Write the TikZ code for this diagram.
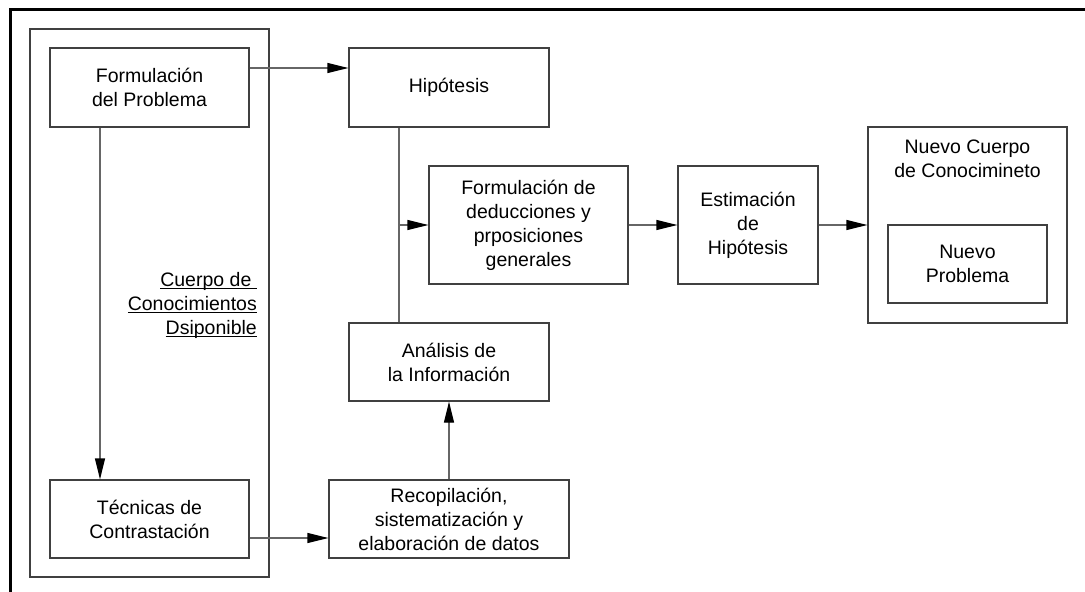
\documentclass[tikz,border=0pt]{standalone}
\usepackage{fontspec}
\setmainfont{Liberation Sans}
\usetikzlibrary{arrows.meta}
\newcommand\myul[1]{\leavevmode\setbox0\hbox{#1}\rlap{\rule[-3.2pt]{\wd0}{1.4pt}}\box0}
\begin{document}
\begin{tikzpicture}[x=1pt,y=-1pt,
  box/.style={draw=black!75, line width=1.2pt, inner sep=0pt, align=center,
    font=\fontsize{19.5}{24}\selectfont},
  conn/.style={draw=black!60, line width=1.2pt},
  arr/.style={conn, -{Triangle[length=21pt,width=10pt,color=black,fill=black]}},
  txt/.style={inner sep=0pt, align=center, font=\fontsize{19.5}{24}\selectfont}]
\useasboundingbox (0,0) rectangle (1085,592);
\fill[white] (0,0) rectangle (1085,592);
% outer frame (top and left edges)
\draw[line width=3pt, black] (10,592) -- (10,9) -- (1085,9);
% left container
\node[box, minimum width=239pt, minimum height=548pt] (cuerpo) at (149.5,303) {};
\node[box, minimum width=199pt, minimum height=79pt] (fp) at (149.5,87.5) {Formulación\\del Problema};
\node[box, minimum width=199pt, minimum height=78pt] (tc) at (149.5,519) {Técnicas de\\Contrastación};
\node[txt, align=right, anchor=east] (lbl) at (257,305) {\myul{Cuerpo de\ }\\\myul{Conocimientos}\\\myul{Dsiponible}};
% middle
\node[box, minimum width=200pt, minimum height=79pt] (hip) at (449,87.5) {Hipótesis};
\node[box, minimum width=200pt, minimum height=78pt] (an) at (449,362) {Análisis de\\la Información};
\node[box, minimum width=240pt, minimum height=78pt] (rec) at (449,519) {Recopilación,\\sistematización y\\elaboración de datos};
\node[box, minimum width=199pt, minimum height=118pt] (fd) at (528.5,225) {Formulación de\\deducciones y\\prposiciones\\generales};
\node[box, minimum width=140pt, minimum height=118pt] (est) at (748,225) {Estimación\\de\\Hipótesis};
% right
\node[box, minimum width=199pt, minimum height=196pt] (nc) at (967.5,225) {};
\node[txt] (nct) at (967.5,158.5) {Nuevo Cuerpo\\de Conocimineto};
\node[box, minimum width=159pt, minimum height=78pt] (np) at (967.5,264) {Nuevo\\Problema};
% connectors
\draw[arr] ([yshift=19.5pt]fp.east) -- ([yshift=19.5pt]hip.west);
\draw[arr] ([xshift=-49.5pt]fp.south) -- ([xshift=-49.5pt]tc.north);
\coordinate (hs) at ([xshift=-50pt]hip.south);
\coordinate (an0) at ([xshift=-50pt]an.north);
\draw[conn] (hs) -- (an0);
\draw[arr] (fd.west -| hs) -- (fd.west);
\draw[arr] (fd.east) -- (est.west);
\draw[arr] (est.east) -- (nc.west);
\draw[arr] (rec.north) -- (an.south);
\draw[arr] ([yshift=-19pt]tc.east) -- ([yshift=-19pt]rec.west);
\end{tikzpicture}
\end{document}
